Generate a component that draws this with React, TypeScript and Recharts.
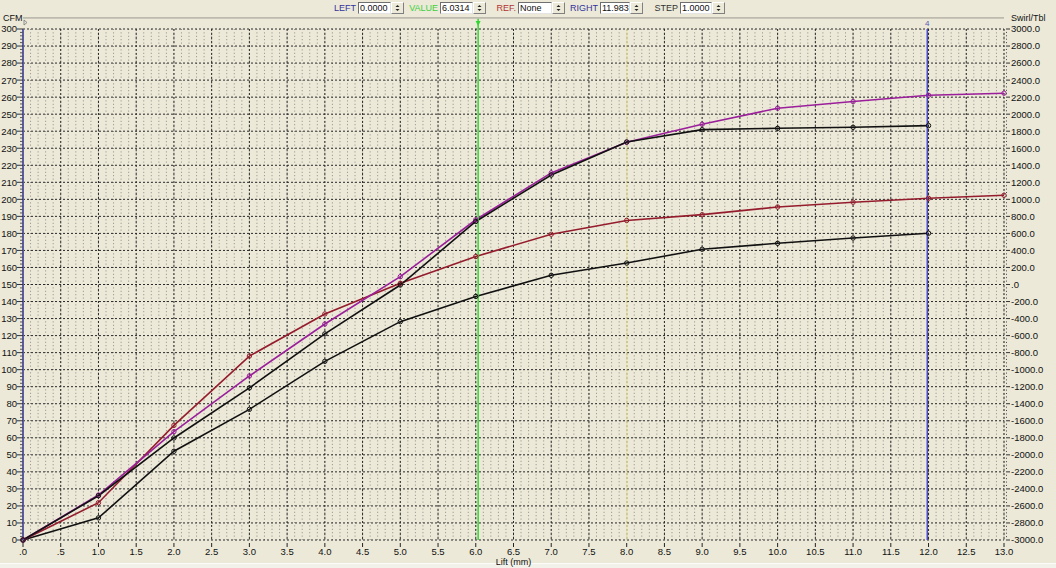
import React from "react";
import {
  LineChart,
  Line,
  XAxis,
  YAxis,
  CartesianGrid,
  ReferenceLine,
  ReferenceDot,
} from "recharts";

const FONT = "'Liberation Sans',Arial,sans-serif";
const TICK_FS = 9.5;

// lift points (mm)
const liftMm = [0, 1, 2, 3, 4, 5, 6, 7, 8, 9, 10, 11, 12, 13];
// flow curves (CFM scale)
const purpleCfm = [0, 26.4, 63.6, 96.3, 126.8, 154.6, 188, 215.5, 233.5, 244.1, 253.5, 257.4, 261.1, 262.3];
const blackUpperCfm = [0, 26, 59.9, 89.3, 121, 149.7, 187, 214.3, 233.7, 240.9, 241.7, 242.3, 243.3, null];
const redCfm = [0, 21.9, 67.3, 108, 132.7, 150.7, 166.4, 179.5, 187.6, 191, 195.5, 198.3, 200.6, 202.4];
const blackLowerCfm = [0, 13, 52.1, 76.7, 104.9, 128.2, 143, 155.4, 162.6, 170.7, 174.2, 177.3, 180.1, null];

// axis ticks
const liftTicks = Array.from({ length: 27 }, (_, i) => i * 0.5);
const cfmTicks = Array.from({ length: 151 }, (_, i) => i * 2);
const swirlTicks = Array.from({ length: 151 }, (_, i) => -3000 + i * 40);

// cursors from the toolbar
const cursorLeft = 0;
const cursorValue = 6.0314;
const cursorRight = 11.983;
const yellowMark = 8;

const rows = liftMm.map((lift, i) => ({
  lift,
  purple: purpleCfm[i],
  blackUpper: blackUpperCfm[i],
  red: redCfm[i],
  blackLower: blackLowerCfm[i],
}));

function fmtLift(v: number) {
  const s = v.toFixed(1);
  return v < 1 ? s.slice(1) : s;
}

function fmtSwirl(v: number) {
  return v === 0 ? ".0" : v.toFixed(1);
}

function LiftTick(props: any) {
  const { x, y, payload } = props;
  return (
    <g>
      <line x1={x} x2={x} y1={y + 3} y2={y + 7} stroke="#222" />
      <text x={x} y={y + 15} textAnchor="middle" fontSize={TICK_FS} fill="#111" fontFamily={FONT}>
        {fmtLift(payload.value)}
      </text>
    </g>
  );
}

function CfmTick(props: any) {
  const { x, y, payload } = props;
  const v = payload.value;
  if (v % 10 !== 0) {
    return <line x1={x - 3} x2={x} y1={y} y2={y} stroke="#555" />;
  }
  return (
    <g>
      <line x1={x - 6} x2={x} y1={y} y2={y} stroke="#333" />
      <text x={x - 6} y={y + 3.4} textAnchor="end" fontSize={TICK_FS} fill="#111" fontFamily={FONT}>
        {v}
      </text>
    </g>
  );
}

function SwirlTick(props: any) {
  const { x, y, payload } = props;
  const v = payload.value;
  if (v % 200 !== 0) {
    return <rect x={x + 2} y={y - 0.5} width={1} height={1} fill="#444" />;
  }
  return (
    <g>
      <line x1={x + 2} x2={x + 6} y1={y} y2={y} stroke="#333" />
      <text x={x + 7} y={y + 3.4} textAnchor="start" fontSize={TICK_FS} fill="#111" fontFamily={FONT}>
        {fmtSwirl(v)}
      </text>
    </g>
  );
}

function Spinner({ left }: { left: number }) {
  return (
    <div
      style={{
        position: "absolute",
        left,
        top: 2,
        width: 13,
        height: 12,
        boxSizing: "border-box",
        background: "#ECE9D8",
        borderTop: "1px solid #fff",
        borderLeft: "1px solid #fff",
        borderBottom: "1px solid #808080",
        borderRight: "1px solid #808080",
      }}
    >
      <svg width={11} height={10} style={{ position: "absolute", left: 0, top: 0 }}>
        <path d="M3.5,4 L7.5,4 L5.5,2 Z" fill="#222" />
        <path d="M3.5,6 L7.5,6 L5.5,8 Z" fill="#222" />
      </svg>
    </div>
  );
}

function Field(props: { label: string; color: string; bx: number; bw: number; value: string }) {
  const { label, color, bx, bw, value } = props;
  return (
    <>
      <span
        style={{
          position: "absolute",
          right: 1056 - bx + 2,
          top: 2,
          fontSize: 9,
          lineHeight: "12px",
          color,
          whiteSpace: "nowrap",
        }}
      >
        {label}
      </span>
      <div
        style={{
          position: "absolute",
          left: bx,
          top: 2,
          width: bw,
          height: 12,
          boxSizing: "border-box",
          background: "#fff",
          borderTop: "1px solid #6f6f6f",
          borderLeft: "1px solid #6f6f6f",
          borderBottom: "1px solid #e4e4e4",
          borderRight: "1px solid #e4e4e4",
          fontSize: 9,
          lineHeight: "10px",
          paddingLeft: 1,
          color: "#111",
          whiteSpace: "nowrap",
        }}
      >
        {value}
      </div>
      <Spinner left={bx + bw} />
    </>
  );
}

export default function App() {
  return (
    <div style={{ position: "relative", width: 1056, height: 568, background: "#ECE9D8", fontFamily: FONT, overflow: "hidden" }}>
      <style>{"body{margin:0;background:#ECE9D8}"}</style>

      <div style={{ position: "absolute", left: 0, top: 563, width: 1056, height: 5, background: "#f2f1ea", borderTop: "1px solid #fbfbf8" }} />

      <LineChart
        width={1056}
        height={568}
        data={rows}
        margin={{ top: 29, right: 0, bottom: 0, left: 0 }}
        style={{ position: "absolute", left: 0, top: 0 }}
      >
        {/* minor dotted columns */}
        <CartesianGrid
          yAxisId="cfm"
          horizontal={false}
          fill="#ECE9D8"
          stroke="#8d8b83"
          strokeDasharray="1 2.4"
          verticalCoordinatesGenerator={({ offset }: any) =>
            Array.from({ length: 131 }, (_, i) => offset.left + (i * offset.width) / 130)
          }
        />
        {/* major dashed grid */}
        <CartesianGrid
          yAxisId="cfm"
          stroke="#2a2a2a"
          strokeDasharray="2 2"
          horizontalCoordinatesGenerator={({ offset }: any) =>
            Array.from({ length: 31 }, (_, i) => offset.top + (i * offset.height) / 30)
          }
          verticalCoordinatesGenerator={({ offset }: any) =>
            Array.from({ length: 27 }, (_, i) => offset.left + (i * offset.width) / 26)
          }
        />

        <XAxis
          dataKey="lift"
          type="number"
          domain={[0, 13]}
          ticks={liftTicks}
          interval={0}
          height={28}
          tickSize={0}
          tickMargin={0}
          axisLine={false}
          tick={<LiftTick />}
          label={{ value: "Lift (mm)", position: "insideBottom", offset: 3, fontSize: 9, fill: "#111", fontFamily: FONT }}
        />
        <YAxis
          yAxisId="cfm"
          type="number"
          domain={[0, 300]}
          ticks={cfmTicks}
          interval={0}
          width={23}
          tickSize={0}
          tickMargin={0}
          axisLine={{ stroke: "#5b5ba6", strokeWidth: 2 }}
          tick={<CfmTick />}
        />
        <YAxis
          yAxisId="swirl"
          orientation="right"
          type="number"
          domain={[-3000, 3000]}
          allowDataOverflow
          ticks={swirlTicks}
          interval={0}
          width={52}
          tickSize={0}
          tickMargin={0}
          axisLine={false}
          tick={<SwirlTick />}
        />

        <ReferenceLine yAxisId="cfm" x={yellowMark} stroke="#eee8a0" strokeWidth={1} />
        <ReferenceLine
          yAxisId="cfm"
          segment={[{ x: 0, y: 306.5 }, { x: 13, y: 306.5 }]}
          ifOverflow="visible"
          stroke="#9a9890"
        />
        <ReferenceLine
          yAxisId="swirl"
          y={0}
          ifOverflow="extendDomain"
          stroke="none"
        />

        <Line yAxisId="cfm" dataKey="blackLower" stroke="#111" strokeWidth={1.6} dot={{ r: 2.2, strokeWidth: 1, fill: "none" }} activeDot={false} isAnimationActive={false} />
        <Line yAxisId="cfm" dataKey="red" stroke="#951c2c" strokeWidth={1.6} dot={{ r: 2.2, strokeWidth: 1, fill: "none" }} activeDot={false} isAnimationActive={false} />
        <Line yAxisId="cfm" dataKey="purple" stroke="#9b1f9b" strokeWidth={1.6} dot={{ r: 2.2, strokeWidth: 1, fill: "none" }} activeDot={false} isAnimationActive={false} />
        <Line yAxisId="cfm" dataKey="blackUpper" stroke="#111" strokeWidth={1.6} dot={{ r: 2.2, strokeWidth: 1, fill: "none" }} activeDot={false} isAnimationActive={false} />

        <ReferenceLine
          yAxisId="cfm"
          segment={[{ x: cursorValue, y: 0 }, { x: cursorValue, y: 306 }]}
          ifOverflow="visible"
          stroke="#33d633"
          strokeWidth={1.5}
        />
        <ReferenceLine
          yAxisId="cfm"
          segment={[{ x: cursorRight, y: 0 }, { x: cursorRight, y: 300 }]}
          ifOverflow="visible"
          stroke="#4a4ac8"
          strokeWidth={1.5}
        />
        <ReferenceDot
          yAxisId="cfm"
          x={cursorValue}
          y={303.3}
          ifOverflow="visible"
          shape={(p: any) => (
            <path d={`M${p.cx - 2.5},${p.cy - 2.5} L${p.cx + 2.5},${p.cy - 2.5} L${p.cx},${p.cy + 2.5} Z`} fill="#33d633" />
          )}
        />
        <ReferenceDot
          yAxisId="cfm"
          x={cursorRight}
          y={303.3}
          ifOverflow="visible"
          shape={(p: any) => (
            <text x={p.cx} y={p.cy + 3} textAnchor="middle" fontSize={8} fill="#5a5ab0" fontFamily={FONT}>
              4
            </text>
          )}
        />
        <ReferenceDot
          yAxisId="cfm"
          x={cursorLeft}
          y={303.8}
          ifOverflow="visible"
          shape={(p: any) => (
            <path d={`M${p.cx + 1},${p.cy - 2.5} L${p.cx + 4},${p.cy} L${p.cx + 1},${p.cy + 2.5} Z`} fill="none" stroke="#777" strokeWidth={0.8} />
          )}
        />
      </LineChart>

      {/* toolbar */}
      <Field label="LEFT" color="#34349e" bx={358} bw={33} value="0.0000" />
      <Field label="VALUE" color="#3ccf3c" bx={440} bw={33} value="6.0314" />
      <Field label="REF." color="#b03434" bx={518} bw={34} value="None" />
      <Field label="RIGHT" color="#34349e" bx={600} bw={30} value="11.983" />
      <Field label="STEP" color="#333" bx={680} bw={32} value="1.0000" />

      <span style={{ position: "absolute", left: 3, top: 14, fontSize: 9, lineHeight: "9px", color: "#111" }}>CFM</span>
      <span style={{ position: "absolute", left: 1011, top: 14, fontSize: 9, lineHeight: "9px", color: "#111" }}>Swirl/Tbl</span>
    </div>
  );
}
